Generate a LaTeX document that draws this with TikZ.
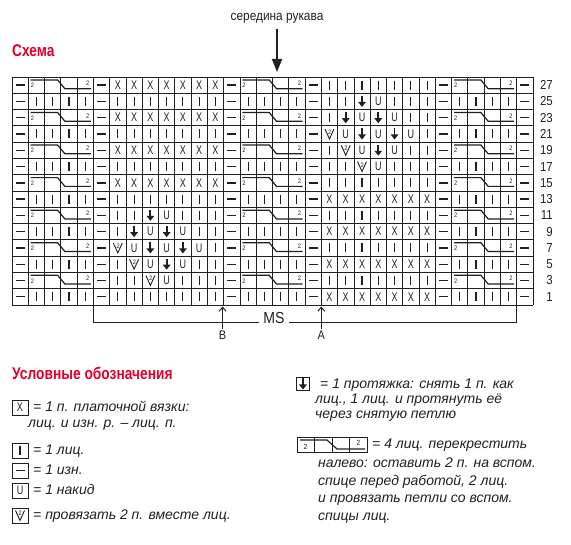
\documentclass[tikz,border=0pt]{standalone}
\usepackage{fontspec}
\setmainfont{Liberation Sans}
\newfontfamily\condfont{Liberation Sans}[FakeStretch=0.88]
\newfontfamily\headfam{Liberation Sans}[FakeStretch=0.81]
\newfontfamily\glyphfont{Liberation Sans}[FakeStretch=0.72]
\usetikzlibrary{arrows.meta,positioning}
\definecolor{inkColor}{RGB}{35,31,32}
\definecolor{headColor}{RGB}{228,0,43}
\newcommand{\headfont}{\headfam\bfseries\fontsize{17}{20}\selectfont}
\newcommand{\legfont}{\itshape\fontsize{14}{17}\selectfont}
\newcommand{\numfont}{\condfont\fontsize{13}{15}\selectfont}
\def\cw{16.28}

% chart stitches, #1 = x and #2 = y of the cell centre
\newcommand{\stP}[2]{\draw[purl] (#1-4.5,#2) -- (#1+4.5,#2);}
\newcommand{\stK}[2]{\draw[stitch] (#1,#2-4.5) -- (#1,#2+4.5);}
\newcommand{\stX}[2]{\node[glyph] at (#1,#2) {X};}
\newcommand{\stU}[2]{\node[glyph] at (#1,#2) {U};}
\newcommand{\stD}[2]{\draw[slip] (#1,#2-5.5) -- (#1,#2+5.5);}
\newcommand{\stV}[2]{\draw[stitch, line width=0.9pt] (#1-4.5,#2-5) -- (#1,#2+5) -- (#1+4.5,#2-5);
  \node[tiny2] at (#1+0.3,#2-1.8) {2};}
\newcommand{\stC}[2]{\draw[cable] (#1-0.35*\cw,#2-0.32*\cw) -- (#1+1.3*\cw,#2-0.32*\cw)
  -- (#1+1.75*\cw,#2+0.22*\cw) -- (#1+3.35*\cw,#2+0.22*\cw);
  \node[tiny2] at (#1-0.25*\cw,#2+0.02*\cw) {2};
  \node[tiny2] at (#1+3.15*\cw,#2-0.12*\cw) {2};}
\newcommand{\stN}[2]{}

% chart rows, left to right
\newcommand{\setrow}[2]{\expandafter\edef\csname chartrow#1\endcsname{#2}}
\def\cab{P,C,N,N,N,P}
\def\pln{P,K,K,K,K,P}
\setrow{27}{\cab,X,X,X,X,X,X,X,\cab,K,K,K,K,K,K,K,\cab}
\setrow{25}{\pln,K,K,K,K,K,K,K,\pln,K,K,D,U,K,K,K,\pln}
\setrow{23}{\cab,X,X,X,X,X,X,X,\cab,K,D,U,D,U,K,K,\cab}
\setrow{21}{\pln,K,K,K,K,K,K,K,\pln,V,U,D,U,D,U,K,\pln}
\setrow{19}{\cab,X,X,X,X,X,X,X,\cab,K,V,U,D,U,K,K,\cab}
\setrow{17}{\pln,K,K,K,K,K,K,K,\pln,K,K,V,U,K,K,K,\pln}
\setrow{15}{\cab,X,X,X,X,X,X,X,\cab,K,K,K,K,K,K,K,\cab}
\setrow{13}{\pln,K,K,K,K,K,K,K,\pln,X,X,X,X,X,X,X,\pln}
\setrow{11}{\cab,K,K,D,U,K,K,K,\cab,K,K,K,K,K,K,K,\cab}
\setrow{9}{\pln,K,D,U,D,U,K,K,\pln,X,X,X,X,X,X,X,\pln}
\setrow{7}{\cab,V,U,D,U,D,U,K,\cab,K,K,K,K,K,K,K,\cab}
\setrow{5}{\pln,K,V,U,D,U,K,K,\pln,X,X,X,X,X,X,X,\pln}
\setrow{3}{\cab,K,K,V,U,K,K,K,\cab,K,K,K,K,K,K,K,\cab}
\setrow{1}{\pln,K,K,K,K,K,K,K,\pln,X,X,X,X,X,X,X,\pln}

\begin{document}
\begin{tikzpicture}[x=1pt, y=-1pt,
    gridline/.style={draw=inkColor, line width=0.7pt},
    stitch/.style={inkColor, line width=1.1pt},
    purl/.style={inkColor, line width=1.4pt},
    slip/.style={inkColor, line width=1.8pt, -{Triangle[length=5pt,width=7.5pt]}},
    cable/.style={inkColor, line width=1.2pt},
    glyph/.style={font=\glyphfont\fontsize{12.5}{12.5}\selectfont, text=inkColor, inner sep=0pt},
    tiny2/.style={font=\condfont\fontsize{6.5}{6.5}\selectfont, text=inkColor, inner sep=0pt},
    rownum/.style={font=\numfont, text=inkColor, anchor=east, inner sep=0pt},
    head/.style={font=\headfont, text=headColor, anchor=base west, inner sep=0pt},
    note/.style={font=\condfont\fontsize{13.5}{15}\selectfont, text=inkColor, inner sep=0pt},
    marklabel/.style={font=\condfont\fontsize{12.5}{15}\selectfont, text=inkColor, inner sep=1.5pt},
    mslabel/.style={font=\condfont\fontsize{16}{18}\selectfont, text=inkColor, inner sep=4pt},
    legbox/.style={draw=inkColor, line width=0.8pt, minimum width=16pt, minimum height=15pt, inner sep=0pt},
    legtext/.style={font=\legfont, text=inkColor, anchor=base west, inner sep=0pt},
    bigarr/.style={-{Triangle[length=13pt,width=10pt]}, line width=1.8pt, inkColor},
    markarr/.style={-{Straight Barb[length=4pt,width=7pt]}, line width=1pt, inkColor},
    msline/.style={inkColor, line width=0.9pt}
  ]
  \useasboundingbox (0,0) rectangle (571,545);

  % titles
  \node[note] (midnote) at (277,18) {середина рукава};
  \coordinate (midtip) at (277,72);
  \draw[bigarr] ([yshift=-6pt]midnote.south) -- (midtip);
  \node[head] (schema) at (12,57) {Схема};

  % chart grid
  \foreach \i in {0,...,32}
    \draw[gridline] (12+\i*\cw,77) -- (12+\i*\cw,77+14*\cw);
  \foreach \j in {0,...,14}
    \draw[gridline] (12,77+\j*\cw) -- (12+32*\cw,77+\j*\cw);

  % stitches and row numbers
  \foreach \r/\lbl in {1/27,2/25,3/23,4/21,5/19,6/17,7/15,8/13,9/11,10/9,11/7,12/5,13/3,14/1} {
    \pgfmathsetmacro{\yy}{77+(\r-0.5)*\cw}
    \node[rownum] (row\lbl) at (553,\yy) {\lbl};
    \edef\syms{\csname chartrow\lbl\endcsname}
    \foreach \s [count=\c] in \syms {
      \pgfmathsetmacro{\xx}{12+(\c-0.5)*\cw}
      \csname st\s\endcsname{\xx}{\yy}
    }
  }

  % pattern repeat and markers
  \node[mslabel] (ms) at (274,318) {MS};
  \coordinate (msLtop) at (93.4,305.9);
  \coordinate (msL) at (93.4,322);
  \coordinate (msR) at (516.7,322);
  \coordinate (msRtop) at (516.7,305.9);
  \draw[msline] (msLtop) -- (msL) -- (msL -| ms.west);
  \draw[msline] (msR -| ms.east) -- (msR) -- (msRtop);
  \node[marklabel] (lblB) at (222.6,335) {B};
  \node[marklabel] (lblA) at (321.3,335) {A};
  \coordinate (tipB) at (222.6,306.5);
  \coordinate (tipA) at (321.3,306.5);
  \draw[markarr] (lblB.north) -- (tipB);
  \draw[markarr] (lblA.north) -- (tipA);

  % legend, left column
  \node[head] (keyhead) at (12,380) {Условные обозначения};
  \node[legbox] (keyX) at (20,407.5) {};
  \stX{20}{407.5}
  \node[legtext] (capX) at (33,411.5) {= 1 п. платочной вязки:};
  \node[legtext] (capXb) at (28,428) {лиц. и изн. р. – лиц. п.};
  \node[legbox] (keyK) at (20,450.5) {};
  \stK{20}{450.5}
  \node[legtext] (capK) at (33,455) {= 1 лиц.};
  \node[legbox] (keyP) at (20,470.5) {};
  \stP{20}{470.5}
  \node[legtext] (capP) at (33,474.5) {= 1 изн.};
  \node[legbox] (keyU) at (20,490.5) {};
  \stU{20}{490.5}
  \node[legtext] (capU) at (33,494.5) {= 1 накид};
  \node[legbox] (keyV) at (20,515.5) {};
  \stV{20}{515.5}
  \node[legtext] (capV) at (33,520) {= провязать 2 п. вместе лиц.};

  % legend, right column
  \node[legbox, minimum width=13pt, minimum height=13pt] (keyD) at (303,384) {};
  \stD{303}{384}
  \node[legtext] (capD) at (320,388.5) {= 1 протяжка: снять 1 п. как};
  \node[legtext] (capD2) at (315,403.5) {лиц., 1 лиц. и протянуть её};
  \node[legtext] (capD3) at (315,418.5) {через снятую петлю};
  \node[legbox, minimum width=70pt] (keyC) at (332,444.5) {};
  \foreach \i in {1,2,3}
    \draw[gridline] (297+\i*17.5,437) -- (297+\i*17.5,452);
  \draw[cable] (300,440) -- (327,440) -- (337,449) -- (365,449);
  \node[tiny2, font=\condfont\fontsize{7.5}{7.5}\selectfont] (twoL) at (305.5,446.5) {2};
  \node[tiny2, font=\condfont\fontsize{7.5}{7.5}\selectfont] (twoR) at (358.5,443) {2};
  \node[legtext] (capC) at (372,449) {= 4 лиц. перекрестить};
  \node[legtext] (capC2) at (318,468) {налево: оставить 2 п. на вспом.};
  \node[legtext] (capC3) at (318,486) {спице перед работой, 2 лиц.};
  \node[legtext] (capC4) at (318,503) {и провязать петли со вспом.};
  \node[legtext] (capC5) at (318,520.5) {спицы лиц.};
\end{tikzpicture}
\end{document}
